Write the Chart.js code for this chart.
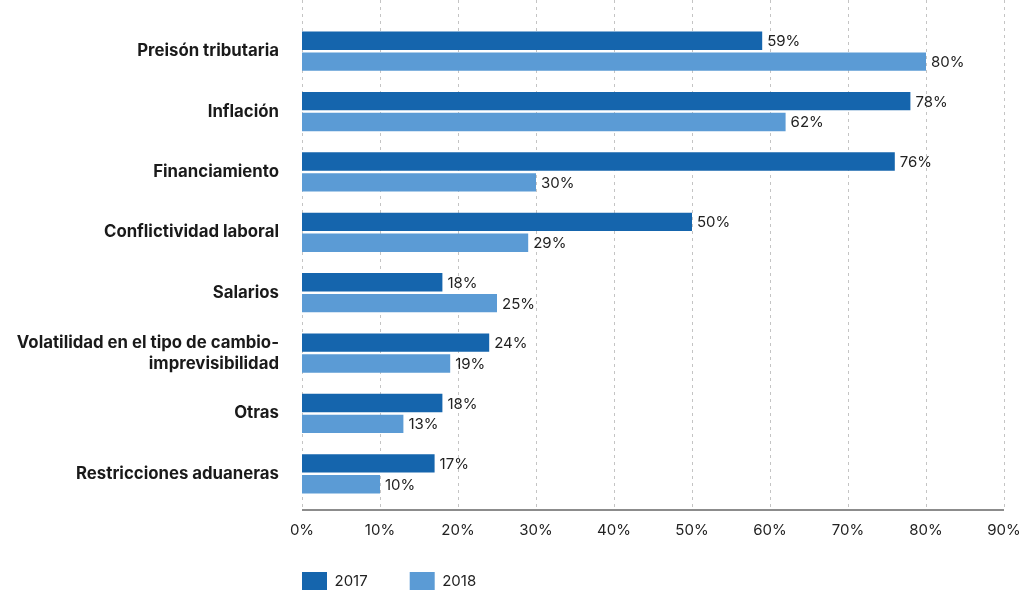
<!DOCTYPE html>
<html>
<head>
<meta charset="utf-8">
<script src="https://cdn.jsdelivr.net/npm/chart.js@4.4.1/dist/chart.umd.min.js"></script>
<style>
html,body{margin:0;padding:0;background:#fff;}
#wrap{width:1023px;height:593px;position:relative;}
</style>
</head>
<body>
<div id="wrap"><canvas id="c" width="1023" height="593"></canvas></div>
<script>
const categories = [
  "Preisón tributaria",
  "Inflación",
  "Financiamiento",
  "Conflictividad laboral",
  "Salarios",
  ["Volatilidad en el tipo de cambio-", "imprevisibilidad"],
  "Otras",
  "Restricciones aduaneras"
];
const series2017 = [59, 78, 76, 50, 18, 24, 18, 17];
const series2018 = [80, 62, 30, 29, 25, 19, 13, 10];
const seriesNames = ["2017", "2018"];
const xTicks = [0, 10, 20, 30, 40, 50, 60, 70, 80, 90];

const FONT = "Inter, 'Open Sans', sans-serif";
const LEGEND_PAD = 42;

const gridPlugin = {
  id: 'gridPlugin',
  afterLayout(chart) {
    // align legend with the plot area's left edge, and place it below the axis labels
    const lg = chart.legend;
    if (lg) {
      const dx = chart.chartArea.left - LEGEND_PAD - lg.left;
      lg.left += dx; lg.right += dx;
      const targetTop = chart.chartArea.bottom + 77 - 9 - LEGEND_PAD;
      const dy = targetTop - lg.top;
      lg.top += dy; lg.bottom += dy;
    }
  },
  beforeDatasetsDraw(chart) {
    const ctx = chart.ctx, xs = chart.scales.x, area = chart.chartArea;
    const axisY = area.bottom + 6;
    ctx.save();
    ctx.strokeStyle = '#c4c4c4';
    ctx.lineWidth = 1;
    ctx.setLineDash([3, 4]);
    xTicks.forEach(v => {
      const px = Math.round(xs.getPixelForValue(v)) + 0.5;
      ctx.beginPath();
      ctx.moveTo(px, 0);
      ctx.lineTo(px, axisY);
      ctx.stroke();
    });
    ctx.setLineDash([]);
    ctx.strokeStyle = '#666';
    ctx.lineWidth = 1.5;
    ctx.beginPath();
    ctx.moveTo(xs.getPixelForValue(0), axisY);
    ctx.lineTo(xs.getPixelForValue(90), axisY);
    ctx.stroke();
    ctx.restore();
  }
};

const labelPlugin = {
  id: 'labelPlugin',
  afterDatasetsDraw(chart) {
    const ctx = chart.ctx;
    ctx.save();
    ctx.font = "400 15px " + FONT;
    ctx.fillStyle = '#222';
    ctx.textAlign = 'left';
    ctx.textBaseline = 'middle';
    chart.data.datasets.forEach((ds, di) => {
      const meta = chart.getDatasetMeta(di);
      meta.data.forEach((bar, i) => {
        ctx.fillText(ds.data[i] + '%', bar.x + 5, bar.y + 1);
      });
    });
    ctx.restore();
  }
};

new Chart(document.getElementById('c'), {
  type: 'bar',
  data: {
    labels: categories,
    datasets: [
      { label: seriesNames[0], data: series2017, backgroundColor: '#1565ad', categoryPercentage: 0.69, barPercentage: 0.88 },
      { label: seriesNames[1], data: series2018, backgroundColor: '#5b9bd5', categoryPercentage: 0.69, barPercentage: 0.88 }
    ]
  },
  options: {
    indexAxis: 'y',
    responsive: false,
    animation: false,
    layout: { padding: { top: 21, right: 19, left: 0, bottom: -33 } },
    scales: {
      x: {
        min: 0, max: 90,
        afterBuildTicks(scale) { scale.ticks = xTicks.map(v => ({ value: v })); },
        afterFit(scale) { scale.paddingRight = 0; scale.paddingLeft = 0; },
        grid: { display: false, drawTicks: false },
        border: { display: false },
        ticks: {
          padding: 17,
          color: '#222',
          font: { family: FONT, size: 15 },
          callback: v => v + '%'
        }
      },
      y: {
        afterFit(scale) { scale.width = 302; scale.paddingTop = 0; scale.paddingBottom = 0; },
        grid: { display: false, drawTicks: false },
        border: { display: false },
        ticks: {
          padding: 23,
          color: '#1a1a1a',
          font: { family: FONT, size: 16.8, weight: 'bold', lineHeight: 1.25 }
        }
      }
    },
    plugins: {
      legend: {
        position: 'bottom',
        align: 'start',
        fullSize: false,
        labels: {
          boxWidth: 25,
          boxHeight: 18,
          padding: LEGEND_PAD,
          color: '#222',
          font: { family: FONT, size: 15 }
        }
      },
      tooltip: { enabled: false }
    }
  },
  plugins: [gridPlugin, labelPlugin]
});
</script>
</body>
</html>
